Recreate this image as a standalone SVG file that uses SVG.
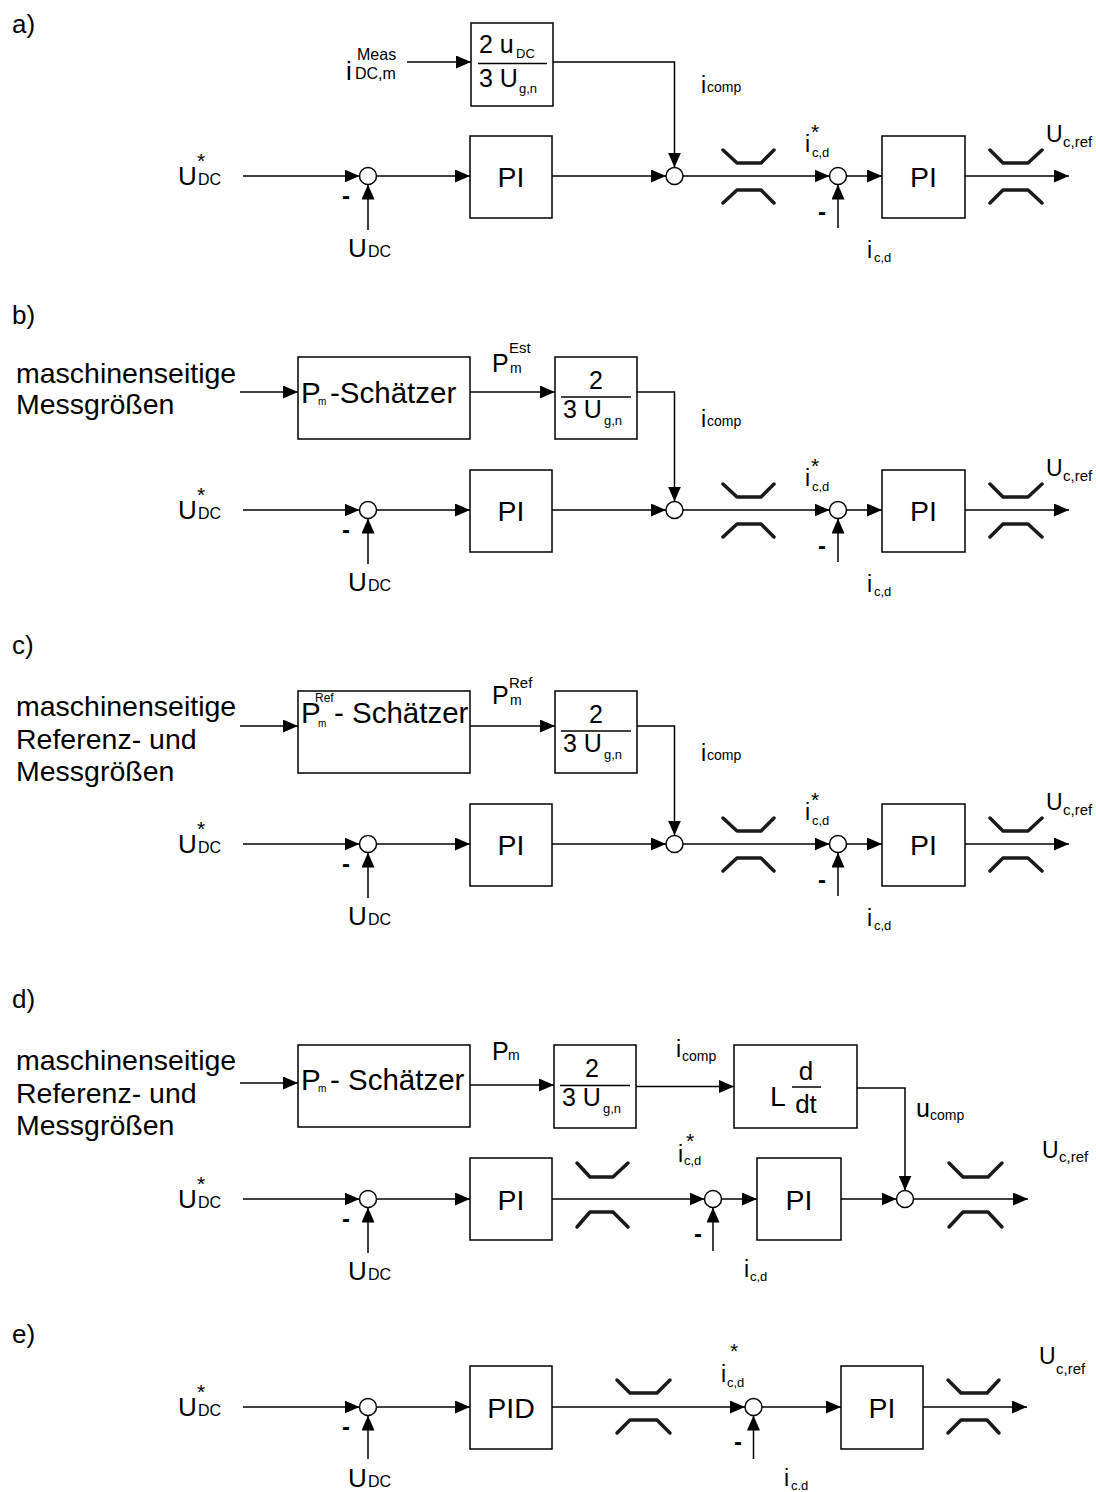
<svg xmlns="http://www.w3.org/2000/svg" width="1096" height="1492" viewBox="0 0 1096 1492">
<defs>
<marker id="ah" markerUnits="userSpaceOnUse" markerWidth="15" markerHeight="13" refX="15" refY="6.5" orient="auto"><path d="M0,0 L15,6.5 L0,13 z" fill="#000"/></marker>
<style>
text{font-family:"Liberation Sans",Arial,sans-serif;fill:#000}
.box{fill:#fff;stroke:#000;stroke-width:1.5}
.sum{fill:#fff;stroke:#000;stroke-width:1.5}
.ln{fill:none;stroke:#000;stroke-width:1.5}
.ar{fill:none;stroke:#000;stroke-width:1.5;marker-end:url(#ah)}
.lim{fill:none;stroke:#1a1a1a;stroke-width:3.5;stroke-linecap:round;stroke-linejoin:round}
.bar{stroke:#000;stroke-width:1.5}
.sec{font-size:26px}
.big{font-size:28.5px}
.bx{font-size:29.5px}
.fr{font-size:25px}
.u{font-size:26px}
.s16{font-size:16px}
.s15{font-size:15px}
.s14{font-size:14px}
.s13{font-size:13px}
.s12{font-size:12px}
.s10{font-size:10px}
.i{font-size:23px}
.st{font-size:21px}
.neg{font-size:24px;font-weight:bold}
.mid{text-anchor:middle}
</style>
</defs>

<!-- ===== Section a ===== -->
<g id="sec-a">
<text class="sec" x="12" y="33">a)</text>
<g id="a-connectors">
<path class="ar" d="M243,176 H359.5"/>
<path class="ar" d="M368,230 V184.5"/>
<path class="ar" d="M376.5,176 H470"/>
<path class="ar" d="M552,176 H666"/>
<path class="ar" d="M407,62 H471"/>
<path class="ar" d="M553,62 H674.5 V167.5"/>
<path class="ar" d="M683,176 H829.5"/>
<path class="ar" d="M838,228 V184.5"/>
<path class="ar" d="M846.5,176 H882"/>
<path class="ar" d="M965,176 H1069"/>
</g>
<g id="a-ref"><text class="u" x="178" y="185">U</text><text class="s16" x="198" y="185">DC</text><text class="st" x="197" y="168">*</text></g>
<g id="a-meas"><text class="u" x="346" y="80">i</text><text class="s16" x="357" y="60">Meas</text><text class="s16" x="355" y="79">DC,m</text></g>
<g id="a-sum1"><circle class="sum" cx="368" cy="176" r="8.5"/><text class="neg" x="342" y="204">-</text></g>
<g id="a-udc"><text class="u" x="348" y="257">U</text><text class="s16" x="368" y="257">DC</text></g>
<g id="a-pi1"><rect class="box" x="470" y="136" width="82" height="82"/><text class="big mid" x="511" y="187">PI</text></g>
<g id="a-frac"><rect class="box" x="471" y="23" width="82" height="83"/><text class="fr" x="479" y="53">2 u</text><text class="s13" x="516" y="58">DC</text><line class="bar" x1="478" y1="63.5" x2="547" y2="63.5"/><text class="fr" x="479" y="87">3 U</text><text class="s13" x="519" y="93">g,n</text></g>
<g id="a-icomp"><text class="i" x="701" y="93">i</text><text class="s14" x="707" y="92">comp</text></g>
<g id="a-sum2"><circle class="sum" cx="674.5" cy="176" r="8.5"/></g>
<g id="a-lim1"><path class="lim" d="M723,150 L737,163 L761,163 L774,150"/><path class="lim" d="M723,203 L737,190 L761,190 L774,203"/></g>
<g id="a-icdref"><text class="i" x="805" y="152">i</text><text class="s13" x="812" y="157">c,d</text><text class="st" x="811" y="139">*</text></g>
<g id="a-sum3"><circle class="sum" cx="838" cy="176" r="8.5"/><text class="neg" x="818" y="220">-</text></g>
<g id="a-icd"><text class="i" x="867" y="258">i</text><text class="s13" x="874" y="262">c,d</text></g>
<g id="a-pi2"><rect class="box" x="882" y="136" width="83" height="82"/><text class="big mid" x="923.5" y="187">PI</text></g>
<g id="a-lim2"><path class="lim" d="M990,150 L1003,163 L1028,163 L1042,150"/><path class="lim" d="M990,203 L1003,190 L1028,190 L1042,203"/></g>
<g id="a-ucref"><text class="i" x="1046" y="142">U</text><text class="s15" x="1063" y="147">c,ref</text></g>
</g>

<!-- ===== Section b ===== -->
<g id="sec-b">
<text class="sec" x="12" y="324">b)</text>
<g id="b-connectors">
<path class="ar" d="M240,392 H298"/>
<path class="ar" d="M470,392 H555"/>
<path class="ar" d="M637,392 H674.5 V501.5"/>
<path class="ar" d="M243,510 H359.5"/>
<path class="ar" d="M368,564 V518.5"/>
<path class="ar" d="M376.5,510 H470"/>
<path class="ar" d="M552,510 H666"/>
<path class="ar" d="M683,510 H829.5"/>
<path class="ar" d="M838,562 V518.5"/>
<path class="ar" d="M846.5,510 H882"/>
<path class="ar" d="M965,510 H1069"/>
</g>
<g id="b-input"><text class="big" x="16" y="383">maschinenseitige</text><text class="big" x="16" y="414">Messgrößen</text></g>
<g id="b-est"><rect class="box" x="298" y="357" width="172" height="82"/><text class="bx" x="301" y="403">P</text><text class="s10" x="318" y="405">m</text><text class="bx" x="330" y="403">-Schätzer</text></g>
<g id="b-pm"><text class="fr" x="492" y="372">P</text><text class="s14" x="510" y="373">m</text><text class="s15" x="509" y="353">Est</text></g>
<g id="b-frac"><rect class="box" x="555" y="357" width="82" height="82"/><text class="fr mid" x="596" y="389">2</text><line class="bar" x1="561" y1="397" x2="631" y2="397"/><text class="fr" x="563" y="418">3 U</text><text class="s13" x="604" y="425">g,n</text></g>
<g id="b-icomp"><text class="i" x="701" y="427">i</text><text class="s14" x="707" y="426">comp</text></g>
<g id="b-ref"><text class="u" x="178" y="519">U</text><text class="s16" x="198" y="519">DC</text><text class="st" x="197" y="502">*</text></g>
<g id="b-sum1"><circle class="sum" cx="368" cy="510" r="8.5"/><text class="neg" x="342" y="538">-</text></g>
<g id="b-udc"><text class="u" x="348" y="591">U</text><text class="s16" x="368" y="591">DC</text></g>
<g id="b-pi1"><rect class="box" x="470" y="470" width="82" height="82"/><text class="big mid" x="511" y="521">PI</text></g>
<g id="b-sum2"><circle class="sum" cx="674.5" cy="510" r="8.5"/></g>
<g id="b-lim1"><path class="lim" d="M723,484 L737,497 L761,497 L774,484"/><path class="lim" d="M723,537 L737,524 L761,524 L774,537"/></g>
<g id="b-icdref"><text class="i" x="805" y="486">i</text><text class="s13" x="812" y="491">c,d</text><text class="st" x="811" y="473">*</text></g>
<g id="b-sum3"><circle class="sum" cx="838" cy="510" r="8.5"/><text class="neg" x="818" y="554">-</text></g>
<g id="b-icd"><text class="i" x="867" y="592">i</text><text class="s13" x="874" y="596">c,d</text></g>
<g id="b-pi2"><rect class="box" x="882" y="470" width="83" height="82"/><text class="big mid" x="923.5" y="521">PI</text></g>
<g id="b-lim2"><path class="lim" d="M990,484 L1003,497 L1028,497 L1042,484"/><path class="lim" d="M990,537 L1003,524 L1028,524 L1042,537"/></g>
<g id="b-ucref"><text class="i" x="1046" y="476">U</text><text class="s15" x="1063" y="481">c,ref</text></g>
</g>

<!-- ===== Section c ===== -->
<g id="sec-c">
<text class="sec" x="12" y="654">c)</text>
<g id="c-connectors">
<path class="ar" d="M240,726 H298"/>
<path class="ar" d="M470,726 H555"/>
<path class="ar" d="M637,726 H674.5 V835.5"/>
<path class="ar" d="M243,844 H359.5"/>
<path class="ar" d="M368,898 V852.5"/>
<path class="ar" d="M376.5,844 H470"/>
<path class="ar" d="M552,844 H666"/>
<path class="ar" d="M683,844 H829.5"/>
<path class="ar" d="M838,896 V852.5"/>
<path class="ar" d="M846.5,844 H882"/>
<path class="ar" d="M965,844 H1069"/>
</g>
<g id="c-input"><text class="big" x="16" y="716">maschinenseitige</text><text class="big" x="16" y="749">Referenz- und</text><text class="big" x="16" y="781">Messgrößen</text></g>
<g id="c-est"><rect class="box" x="298" y="691" width="172" height="82"/><text class="bx" x="301" y="723">P</text><text class="s12" x="315" y="702">Ref</text><text class="s10" x="318" y="727">m</text><text class="bx" x="334" y="723">- Schätzer</text></g>
<g id="c-pm"><text class="fr" x="492" y="704">P</text><text class="s14" x="510" y="705">m</text><text class="s15" x="509" y="688">Ref</text></g>
<g id="c-frac"><rect class="box" x="555" y="691" width="82" height="82"/><text class="fr mid" x="596" y="723">2</text><line class="bar" x1="561" y1="731" x2="631" y2="731"/><text class="fr" x="563" y="752">3 U</text><text class="s13" x="604" y="759">g,n</text></g>
<g id="c-icomp"><text class="i" x="701" y="761">i</text><text class="s14" x="707" y="760">comp</text></g>
<g id="c-ref"><text class="u" x="178" y="853">U</text><text class="s16" x="198" y="853">DC</text><text class="st" x="197" y="836">*</text></g>
<g id="c-sum1"><circle class="sum" cx="368" cy="844" r="8.5"/><text class="neg" x="342" y="872">-</text></g>
<g id="c-udc"><text class="u" x="348" y="925">U</text><text class="s16" x="368" y="925">DC</text></g>
<g id="c-pi1"><rect class="box" x="470" y="804" width="82" height="82"/><text class="big mid" x="511" y="855">PI</text></g>
<g id="c-sum2"><circle class="sum" cx="674.5" cy="844" r="8.5"/></g>
<g id="c-lim1"><path class="lim" d="M723,818 L737,831 L761,831 L774,818"/><path class="lim" d="M723,871 L737,858 L761,858 L774,871"/></g>
<g id="c-icdref"><text class="i" x="805" y="820">i</text><text class="s13" x="812" y="825">c,d</text><text class="st" x="811" y="807">*</text></g>
<g id="c-sum3"><circle class="sum" cx="838" cy="844" r="8.5"/><text class="neg" x="818" y="888">-</text></g>
<g id="c-icd"><text class="i" x="867" y="926">i</text><text class="s13" x="874" y="930">c,d</text></g>
<g id="c-pi2"><rect class="box" x="882" y="804" width="83" height="82"/><text class="big mid" x="923.5" y="855">PI</text></g>
<g id="c-lim2"><path class="lim" d="M990,818 L1003,831 L1028,831 L1042,818"/><path class="lim" d="M990,871 L1003,858 L1028,858 L1042,871"/></g>
<g id="c-ucref"><text class="i" x="1046" y="810">U</text><text class="s15" x="1063" y="815">c,ref</text></g>
</g>

<!-- ===== Section d ===== -->
<g id="sec-d">
<text class="sec" x="12" y="1008">d)</text>
<g id="d-connectors">
<path class="ar" d="M240,1083 H298"/>
<path class="ar" d="M470,1085 H554"/>
<path class="ar" d="M636,1086.5 H734"/>
<path class="ar" d="M857,1088 H905 V1190.5"/>
<path class="ar" d="M243,1199 H359.5"/>
<path class="ar" d="M368,1253 V1207.5"/>
<path class="ar" d="M376.5,1199 H470"/>
<path class="ar" d="M552,1199 H704.5"/>
<path class="ar" d="M713,1251 V1207.5"/>
<path class="ar" d="M721.5,1199 H757"/>
<path class="ar" d="M841,1199 H896.5"/>
<path class="ar" d="M913.5,1199 H1028"/>
</g>
<g id="d-input"><text class="big" x="16" y="1070">maschinenseitige</text><text class="big" x="16" y="1103">Referenz- und</text><text class="big" x="16" y="1135">Messgrößen</text></g>
<g id="d-est"><rect class="box" x="298" y="1045" width="172" height="82"/><text class="bx" x="301" y="1090">P</text><text class="s10" x="318" y="1092">m</text><text class="bx" x="330" y="1090">- Schätzer</text></g>
<g id="d-pm"><text class="fr" x="492" y="1060">P</text><text class="s14" x="508" y="1060">m</text></g>
<g id="d-frac"><rect class="box" x="554" y="1045" width="82" height="83"/><text class="fr mid" x="592" y="1077">2</text><line class="bar" x1="560" y1="1085.5" x2="630" y2="1085.5"/><text class="fr" x="562" y="1106">3 U</text><text class="s13" x="603" y="1113">g,n</text></g>
<g id="d-icomp"><text class="i" x="676" y="1057">i</text><text class="s14" x="682" y="1061">comp</text></g>
<g id="d-deriv"><rect class="box" x="734" y="1045" width="123" height="83"/><text class="big" x="770" y="1106">L</text><text class="u mid" x="806" y="1080">d</text><line class="bar" x1="792" y1="1087" x2="821" y2="1087"/><text class="u mid" x="806" y="1113">dt</text></g>
<g id="d-ucomp"><text class="fr" x="916" y="1117">u</text><text class="s14" x="930" y="1120">comp</text></g>
<g id="d-ref"><text class="u" x="178" y="1208">U</text><text class="s16" x="198" y="1208">DC</text><text class="st" x="197" y="1191">*</text></g>
<g id="d-sum1"><circle class="sum" cx="368" cy="1199" r="8.5"/><text class="neg" x="342" y="1227">-</text></g>
<g id="d-udc"><text class="u" x="348" y="1280">U</text><text class="s16" x="368" y="1280">DC</text></g>
<g id="d-pi1"><rect class="box" x="470" y="1158" width="82" height="82"/><text class="big mid" x="511" y="1210">PI</text></g>
<g id="d-lim1"><path class="lim" d="M577,1163 L590,1177 L613,1177 L628,1163"/><path class="lim" d="M577,1227 L590,1212 L613,1212 L628,1227"/></g>
<g id="d-icdref"><text class="i" x="678" y="1162">i</text><text class="s13" x="684" y="1165">c,d</text><text class="st" x="686" y="1148">*</text></g>
<g id="d-sum2"><circle class="sum" cx="713" cy="1199" r="8.5"/><text class="neg" x="694" y="1242">-</text></g>
<g id="d-icd"><text class="i" x="744" y="1277">i</text><text class="s13" x="750" y="1281">c,d</text></g>
<g id="d-pi2"><rect class="box" x="757" y="1158" width="84" height="82"/><text class="big mid" x="799" y="1210">PI</text></g>
<g id="d-sum3"><circle class="sum" cx="905" cy="1199" r="8.5"/></g>
<g id="d-lim2"><path class="lim" d="M949,1163 L963,1177 L988,1177 L1002,1163"/><path class="lim" d="M949,1227 L963,1212 L988,1212 L1002,1227"/></g>
<g id="d-ucref"><text class="i" x="1042" y="1158">U</text><text class="s15" x="1059" y="1162">c,ref</text></g>
</g>

<!-- ===== Section e ===== -->
<g id="sec-e">
<text class="sec" x="12" y="1343">e)</text>
<g id="e-connectors">
<path class="ar" d="M243,1407 H359.5"/>
<path class="ar" d="M368,1459 V1415.5"/>
<path class="ar" d="M376.5,1407 H470"/>
<path class="ar" d="M552,1407 H745"/>
<path class="ar" d="M753.5,1459 V1415.5"/>
<path class="ar" d="M762,1407 H841"/>
<path class="ar" d="M923,1407 H1027"/>
</g>
<g id="e-ref"><text class="u" x="178" y="1416">U</text><text class="s16" x="198" y="1416">DC</text><text class="st" x="197" y="1399">*</text></g>
<g id="e-sum1"><circle class="sum" cx="368" cy="1407" r="8.5"/><text class="neg" x="342" y="1435">-</text></g>
<g id="e-udc"><text class="u" x="348" y="1487">U</text><text class="s16" x="368" y="1487">DC</text></g>
<g id="e-pid"><rect class="box" x="470" y="1366" width="82" height="83"/><text class="big mid" x="511" y="1418">PID</text></g>
<g id="e-lim1"><path class="lim" d="M617,1380 L630,1393 L657,1393 L670,1380"/><path class="lim" d="M617,1433 L630,1420 L657,1420 L670,1433"/></g>
<g id="e-icdref"><text class="i" x="721" y="1382">i</text><text class="s13" x="727" y="1387">c,d</text><text class="st" x="730" y="1358">*</text></g>
<g id="e-sum2"><circle class="sum" cx="753.5" cy="1407" r="8.5"/><text class="neg" x="734" y="1450">-</text></g>
<g id="e-icd"><text class="i" x="784" y="1486">i</text><text class="s13" x="791" y="1490">c.d</text></g>
<g id="e-pi"><rect class="box" x="841" y="1366" width="82" height="83"/><text class="big mid" x="882" y="1418">PI</text></g>
<g id="e-lim2"><path class="lim" d="M948,1380 L961,1393 L987,1393 L999,1380"/><path class="lim" d="M948,1433 L961,1420 L987,1420 L999,1433"/></g>
<g id="e-ucref"><text class="i" x="1039" y="1364">U</text><text class="s15" x="1056" y="1374">c,ref</text></g>
</g>
</svg>
